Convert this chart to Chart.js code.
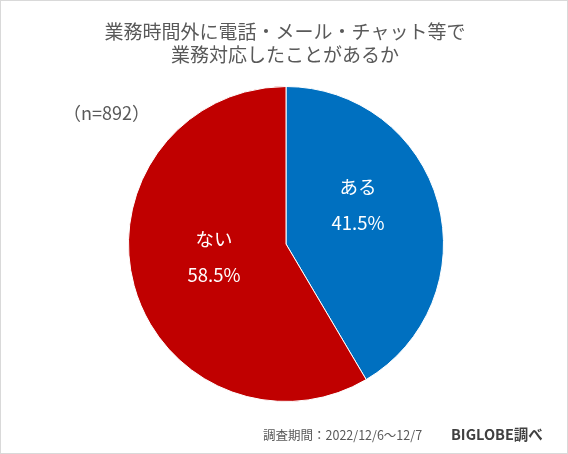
<!DOCTYPE html>
<html lang="ja">
<head>
<meta charset="utf-8">
<script src="https://cdn.jsdelivr.net/npm/chart.js@4/dist/chart.umd.min.js"></script>
<style>
  body { margin: 0; background: #fff; }
  #wrap {
    position: relative; width: 568px; height: 454px;
    box-sizing: border-box; border: 1px solid #d9d9d9;
    font-family: "Noto Sans CJK JP", "Noto Sans", sans-serif; color: #595959;
  }
  #chart { position: absolute; left: -1px; top: -1px; }
  .txt { position: absolute; white-space: nowrap; }
  #title { left: 0; width: 568px; top: 18px; text-align: center; font-size: 19px; line-height: 23px; }
  #nlabel { left: 62px; top: 98px; font-size: 18px; }
  #period { left: 262px; top: 424px; font-size: 12.5px; }
  #source { left: 450px; top: 422px; font-size: 14.5px; font-weight: bold; color: #404040; }
</style>
</head>
<body>
<div id="wrap">
  <canvas id="chart" width="568" height="454"></canvas>
  <div class="txt" id="title">業務時間外に電話・メール・チャット等で<br>業務対応したことがあるか</div>
  <div class="txt" id="nlabel">（n=892）</div>
  <div class="txt" id="period">調査期間：2022/12/6～12/7</div>
  <div class="txt" id="source">BIGLOBE調べ</div>
</div>
<script>
// 回答の項目と割合（%）
const categories = ["ある", "ない"];
const values = [41.5, 58.5];
const colors = ["#0070C0", "#C00000"];

// スライス内にラベルと割合を書くプラグイン
const sliceLabels = {
  id: "sliceLabels",
  afterDatasetsDraw(chart, args, opts) {
    const ctx = chart.ctx;
    const meta = chart.getDatasetMeta(0);
    ctx.save();
    ctx.fillStyle = "#ffffff";
    ctx.textAlign = "center";
    ctx.textBaseline = "middle";
    ctx.font = '18.5px "Noto Sans CJK JP", sans-serif';
    meta.data.forEach((arc, i) => {
      const pos = arc.tooltipPosition();
      const shift = opts.shifts[i];
      const x = pos.x + shift[0];
      const y = pos.y + shift[1];
      ctx.fillText(categories[i], x, y - 18);
      ctx.fillText(values[i].toFixed(1) + "%", x, y + 18);
    });
    ctx.restore();
  }
};

new Chart(document.getElementById("chart").getContext("2d"), {
  type: "pie",
  data: {
    labels: categories,
    datasets: [{
      data: values,
      backgroundColor: colors,
      borderColor: "#ffffff",
      borderWidth: 1
    }]
  },
  options: {
    responsive: false,
    animation: false,
    layout: { padding: { left: 128, right: 124, top: 86, bottom: 52 } },
    plugins: {
      legend: { display: false },
      tooltip: { enabled: false },
      sliceLabels: { shifts: [[-4, -18], [4, -8]] }
    }
  },
  plugins: [sliceLabels]
});
</script>
</body>
</html>
